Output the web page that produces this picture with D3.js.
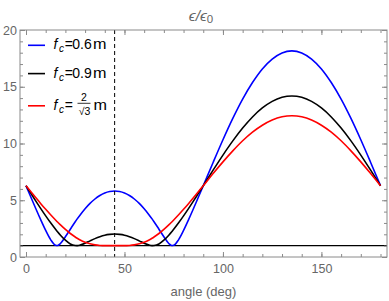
<!DOCTYPE html>
<html>
<head>
<meta charset="utf-8">
<script src="https://cdn.jsdelivr.net/npm/d3@7"></script>
<style>
  body { margin: 0; background: white; }
  text { font-family: "Liberation Sans", Arial, sans-serif; }
</style>
</head>
<body>
<div id="container"></div>
<script>
let angles = [0,2.5,5,7.5,10,12.5,15,16,17.5,20,22.5,25,26,27.5,30,32.5,35,37.5,40,42.5,45,
  47.5,50,52.5,55,57.5,60,62.5,64,65,67.5,70,72.5,74,75,77.5,80,82.5,85,87.5,90,
  95,100,105,110,115,120,125,130,135,140,145,150,155,160,165,170,175,180];

// fc = 0.6 m
let blueVals = [6.28,5.26,4.25,3.27,2.34,1.53,1.03,1.01,1.19,1.78,2.45,3.11,3.36,3.71,4.25,4.72,5.11,5.42,5.64,5.77,5.82,
  5.77,5.64,5.42,5.11,4.72,4.25,3.71,3.36,3.11,2.45,1.78,1.19,1.01,1.03,1.53,2.34,3.27,4.25,5.26,6.28,
  8.33,10.33,12.21,13.91,15.37,16.57,17.44,17.98,18.16,17.98,17.44,16.57,15.37,13.91,12.21,10.33,8.33,6.28];
// fc = 0.9 m
let blackVals = [6.28,5.60,4.92,4.26,3.62,3.01,2.44,2.22,1.92,1.48,1.15,1.01,1.00,1.05,1.21,1.42,1.62,1.79,1.92,1.99,2.02,
  1.99,1.92,1.79,1.62,1.42,1.21,1.05,1.00,1.01,1.15,1.48,1.92,2.22,2.44,3.01,3.62,4.26,4.92,5.60,6.28,
  7.65,8.98,10.23,11.36,12.34,13.13,13.71,14.07,14.19,14.07,13.71,13.13,12.34,11.36,10.23,8.98,7.65,6.28];
// fc = 2/sqrt(3) m
let redVals = [6.28,5.75,5.22,4.70,4.20,3.72,3.26,3.08,2.83,2.43,2.07,1.76,1.65,1.50,1.30,1.16,1.07,1.02,1.00,1.00,1.00,
  1.00,1.00,1.02,1.07,1.16,1.30,1.50,1.65,1.76,2.07,2.43,2.83,3.08,3.26,3.72,4.20,4.70,5.22,5.75,6.28,
  7.35,8.38,9.35,10.24,11.00,11.61,12.07,12.35,12.44,12.35,12.07,11.61,11.00,10.24,9.35,8.38,7.35,6.28];

let seriesNames = ["0.6", "0.9", "frac"];
let seriesColors = ["#0000ff", "#000000", "#ff0000"];

let xTicks = [0, 50, 100, 150];
let xMinorTicks = d3.range(0, 181, 10);
let yTicks = [0, 5, 10, 15, 20];
let yMinorTicks = d3.range(0, 21, 1);

let refLevel = 1;     // horizontal line
let refAngle = 45;    // dashed vertical line

let w = 389;
let h = 301;

let viz = d3.select("#container")
  .append("svg")
    .attr("width", w)
    .attr("height", h)
    .style("background-color", "white");

let pLeft = 20, pRight = 387, pTop = 30, pBottom = 257;

let xScale = d3.scaleLinear().domain([-3.05, 183.3]).range([pLeft, pRight]);
let yScale = d3.scaleLinear().domain([0, 20]).range([pBottom, pTop]);

let frameColor = "#8a8a8a";
let labelColor = "#666666";

////////// curves
let seriesVals = [blueVals, blackVals, redVals];
let line = d3.line()
  .x(function(d){ return xScale(d[0]); })
  .y(function(d){ return yScale(d[1]); })
  .curve(d3.curveMonotoneX);

let plot = viz.append("g").attr("class", "plot");

// reference lines
plot.append("line")
  .attr("x1", pLeft).attr("x2", pRight)
  .attr("y1", yScale(refLevel)).attr("y2", yScale(refLevel))
  .attr("stroke", "black").attr("stroke-width", 1.4);

seriesVals.forEach(function(vals, i){
  let pts = angles.map(function(a, j){ return [a, vals[j]]; });
  plot.append("path")
    .attr("d", line(pts))
    .attr("fill", "none")
    .attr("stroke", seriesColors[i])
    .attr("stroke-width", 1.6);
});

plot.append("line")
  .attr("x1", xScale(refAngle)).attr("x2", xScale(refAngle))
  .attr("y1", pTop).attr("y2", pBottom)
  .attr("stroke", "black").attr("stroke-width", 1)
  .attr("stroke-dasharray", "4,3");

////////// frame + ticks
viz.append("rect")
  .attr("x", pLeft).attr("y", pTop)
  .attr("width", pRight - pLeft).attr("height", pBottom - pTop)
  .attr("fill", "none").attr("stroke", frameColor).attr("stroke-width", 1);

function addAxis(axis, tx, ty, withLabels){
  let g = viz.append("g").attr("transform", "translate(" + tx + "," + ty + ")").call(axis);
  g.select(".domain").remove();
  g.selectAll("line").attr("stroke", frameColor);
  g.selectAll("text")
    .attr("fill", labelColor)
    .style("font-size", "12.5px")
    .style("font-family", "'Liberation Sans', Arial, sans-serif");
  if (!withLabels) g.selectAll("text").remove();
  return g;
}

addAxis(d3.axisBottom(xScale).tickValues(xTicks).tickSize(-5).tickPadding(7).tickFormat(d3.format("d")), 0, pBottom, true);
addAxis(d3.axisBottom(xScale).tickValues(xMinorTicks).tickSize(-3), 0, pBottom, false);
addAxis(d3.axisTop(xScale).tickValues(xTicks).tickSize(-5), 0, pTop, false);
addAxis(d3.axisTop(xScale).tickValues(xMinorTicks).tickSize(-3), 0, pTop, false);

addAxis(d3.axisLeft(yScale).tickValues(yTicks).tickSize(-5).tickPadding(3).tickFormat(d3.format("d")), pLeft, 0, true);
addAxis(d3.axisLeft(yScale).tickValues(yMinorTicks).tickSize(-3), pLeft, 0, false);
addAxis(d3.axisRight(yScale).tickValues(yTicks).tickSize(-5), pRight, 0, false);
addAxis(d3.axisRight(yScale).tickValues(yMinorTicks).tickSize(-3), pRight, 0, false);

////////// labels
viz.append("text")
  .attr("x", (pLeft + pRight) / 2).attr("y", 296)
  .attr("text-anchor", "middle")
  .attr("fill", labelColor)
  .style("font-size", "13px")
  .text("angle (deg)");

let title = viz.append("text")
  .attr("x", 201).attr("y", 20.5)
  .attr("text-anchor", "middle")
  .attr("fill", labelColor)
  .style("font-size", "15.5px")
  .style("font-style", "italic");
title.append("tspan").text("\u03f5/\u03f5");
title.append("tspan").attr("dy", 2.5).style("font-size", "11.5px").style("font-style", "normal").text("0");

////////// legend
let legendY = [45.3, 73.6, 105.8];
seriesNames.forEach(function(name, i){
  let y = legendY[i];
  viz.append("line")
    .attr("x1", 28).attr("x2", 45)
    .attr("y1", y).attr("y2", y)
    .attr("stroke", seriesColors[i]).attr("stroke-width", 1.6);

  let base = y + 4;
  let t = viz.append("text").attr("y", base).attr("fill", "black").style("font-size", "14px");
  t.append("tspan").attr("x", 53.5).style("font-style", "italic").text("f");
  t.append("tspan").attr("x", 59).attr("dy", 3).style("font-size", "10px").style("font-style", "italic").text("c");
  t.append("tspan").attr("x", 64.8).attr("dy", -3).text("=");

  let mX = 93;
  if (name == "frac"){
    // 2/√3 as a stacked fraction
    viz.append("text").attr("x", 84).attr("y", y - 4.5)
      .attr("text-anchor", "middle").style("font-size", "10.5px").text("2");
    viz.append("line").attr("x1", 77.5).attr("x2", 90.5)
      .attr("y1", y - 2.5).attr("y2", y - 2.5)
      .attr("stroke", "black").attr("stroke-width", 0.8);
    viz.append("text").attr("x", 84.5).attr("y", y + 9.5)
      .attr("text-anchor", "middle").style("font-size", "10.5px").text("\u221a3");
    mX = 93.5;
  } else {
    t.append("tspan").attr("x", 72.3).text(name);
  }
  viz.append("text").attr("x", mX).attr("y", base)
    .style("font-size", "14px")
    .attr("textLength", 13.5).attr("lengthAdjust", "spacingAndGlyphs")
    .text("m");
});
</script>
</body>
</html>
